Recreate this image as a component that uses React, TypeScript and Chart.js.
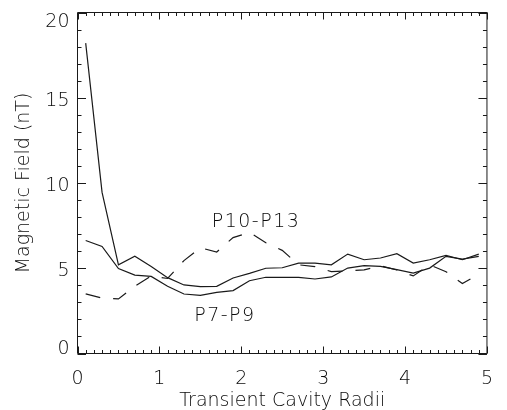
import React, { useEffect, useRef } from 'react';
import { Chart, registerables } from 'chart.js';

Chart.register(...registerables);

// ---- data ----
const radii = [0.1, 0.3, 0.5, 0.7, 0.9, 1.1, 1.3, 1.5, 1.7, 1.9, 2.1, 2.3, 2.5, 2.7, 2.9, 3.1, 3.3, 3.5, 3.7, 3.9, 4.1, 4.3, 4.5, 4.7, 4.9];
const fieldUpper = [18.2, 9.45, 5.2, 5.7, 5.1, 4.45, 4.02, 3.92, 3.94, 4.43, 4.7, 5.0, 5.03, 5.3, 5.3, 5.2, 5.83, 5.5, 5.6, 5.85, 5.3, 5.5, 5.75, 5.5, 5.83];
const fieldP7P9 = [6.63, 6.28, 4.98, 4.6, 4.52, 3.94, 3.49, 3.41, 3.59, 3.69, 4.27, 4.47, 4.47, 4.47, 4.37, 4.49, 5.01, 5.15, 5.11, 4.92, 4.72, 5.01, 5.7, 5.54, 5.7];
const fieldP10P13 = [3.5, 3.25, 3.2, 3.95, 4.55, 4.4, 5.45, 6.2, 5.95, 6.8, 7.1, 6.5, 6.05, 5.2, 5.1, 4.8, 4.85, 4.9, 5.15, 4.9, 4.55, 5.2, 4.8, 4.1, 4.65];
const labelTexts = ['P10-P13', 'P7-P9'];
const labelRadii = [2.18, 1.8];
const labelFields = [7.84, 2.33];
const xTitle = 'Transient Cavity Radii';
const yTitle = 'Magnetic Field (nT)';

const INK = '#1a1a1a';
const TEXT = '#0a0a0a';
const FONT = "'DejaVu Sans', sans-serif";
const FSIZE = 19;
const FWEIGHT = 200;

const framePlugin = {
  id: 'idlFrame',
  afterDraw(chart: any) {
    const { ctx, chartArea: a, scales } = chart;
    const xs = scales.x;
    const ys = scales.y;
    ctx.save();
    ctx.strokeStyle = INK;
    ctx.lineWidth = 1;
    ctx.beginPath();
    ctx.rect(a.left, a.top, a.right - a.left, a.bottom - a.top);
    // x ticks (inward, top and bottom)
    for (let i = 0; i <= 50; i++) {
      const v = xs.min + (xs.max - xs.min) * i / 50;
      const px = Math.round(xs.getPixelForValue(v)) + 0.5;
      const len = i % 10 === 0 ? 7 : 3.5;
      ctx.moveTo(px, a.bottom);
      ctx.lineTo(px, a.bottom - len);
      ctx.moveTo(px, a.top);
      ctx.lineTo(px, a.top + len);
    }
    // y ticks (inward, left and right)
    for (let i = 0; i <= 20; i++) {
      const v = ys.min + (ys.max - ys.min) * i / 20;
      const py = Math.round(ys.getPixelForValue(v)) + 0.5;
      const len = i % 5 === 0 ? 8.5 : 4;
      ctx.moveTo(a.left, py);
      ctx.lineTo(a.left + len, py);
      ctx.moveTo(a.right, py);
      ctx.lineTo(a.right - len, py);
    }
    ctx.stroke();

    // y tick labels, kept inside the axis span
    ctx.fillStyle = TEXT;
    ctx.font = `${FWEIGHT} ${FSIZE}px ${FONT}`;
    ctx.textAlign = 'right';
    ctx.textBaseline = 'alphabetic';
    const half = 7;
    ys.ticks.forEach((t: any) => {
      const y = ys.getPixelForValue(t.value) + 1;
      const c = Math.min(Math.max(y, a.top + half), a.bottom - half);
      ctx.fillText(String(t.value), a.left - 8, c + 7);
    });

    // in-plot labels
    ctx.textAlign = 'center';
    (ctx as any).letterSpacing = '1.5px';
    labelTexts.forEach((txt, i) => {
      const x = xs.getPixelForValue(labelRadii[i]);
      const y = ys.getPixelForValue(labelFields[i]);
      ctx.fillText(txt, x, y + 7);
    });
    ctx.restore();
  },
};

export default function App() {
  const ref = useRef<HTMLCanvasElement>(null);
  useEffect(() => {
    const line = (vals: number[], dash: number[] = []) => ({
      data: radii.map((x, i) => ({ x, y: vals[i] })),
      borderColor: INK,
      borderWidth: 1.2,
      borderDash: dash,
      pointRadius: 0,
      tension: 0,
      fill: false,
    });
    const chart = new Chart(ref.current!, {
      type: 'line',
      data: {
        datasets: [line(fieldUpper), line(fieldP7P9), line(fieldP10P13, [15, 13])],
      },
      options: {
        responsive: false,
        animation: false,
        devicePixelRatio: 1,
        layout: { padding: { top: 12.5, right: 7.5, left: 0, bottom: 0 } },
        plugins: { legend: { display: false }, tooltip: { enabled: false } },
        scales: {
          x: {
            type: 'linear',
            min: 0,
            max: 5,
            afterFit: (s: any) => { s.height = 56.5; },
            grid: { display: false, drawTicks: false },
            border: { display: false },
            ticks: {
              stepSize: 1,
              color: TEXT,
              font: { family: FONT, size: FSIZE, weight: FWEIGHT },
              padding: 14,
              maxRotation: 0,
              autoSkip: false,
            },
            title: {
              display: true,
              text: xTitle,
              color: TEXT,
              font: { family: FONT, size: FSIZE, weight: FWEIGHT, lineHeight: 1 },
              padding: { top: 0, bottom: -1 },
            },
          },
          y: {
            type: 'linear',
            min: 0,
            max: 20,
            afterFit: (s: any) => { s.width = 77.5; },
            grid: { display: false, drawTicks: false },
            border: { display: false },
            ticks: { stepSize: 5, display: false },
            title: {
              display: true,
              text: yTitle,
              color: TEXT,
              font: { family: FONT, size: FSIZE, weight: FWEIGHT, lineHeight: 1 },
              padding: { top: 15, bottom: 0 },
            },
          },
        },
      } as any,
      plugins: [framePlugin],
    });
    return () => chart.destroy();
  }, []);
  return (
    <div style={{ position: 'fixed', left: 0, top: 0, width: 507, height: 410, background: '#fff' }}>
      <canvas ref={ref} width={507} height={410} style={{ display: 'block' }} />
    </div>
  );
}
